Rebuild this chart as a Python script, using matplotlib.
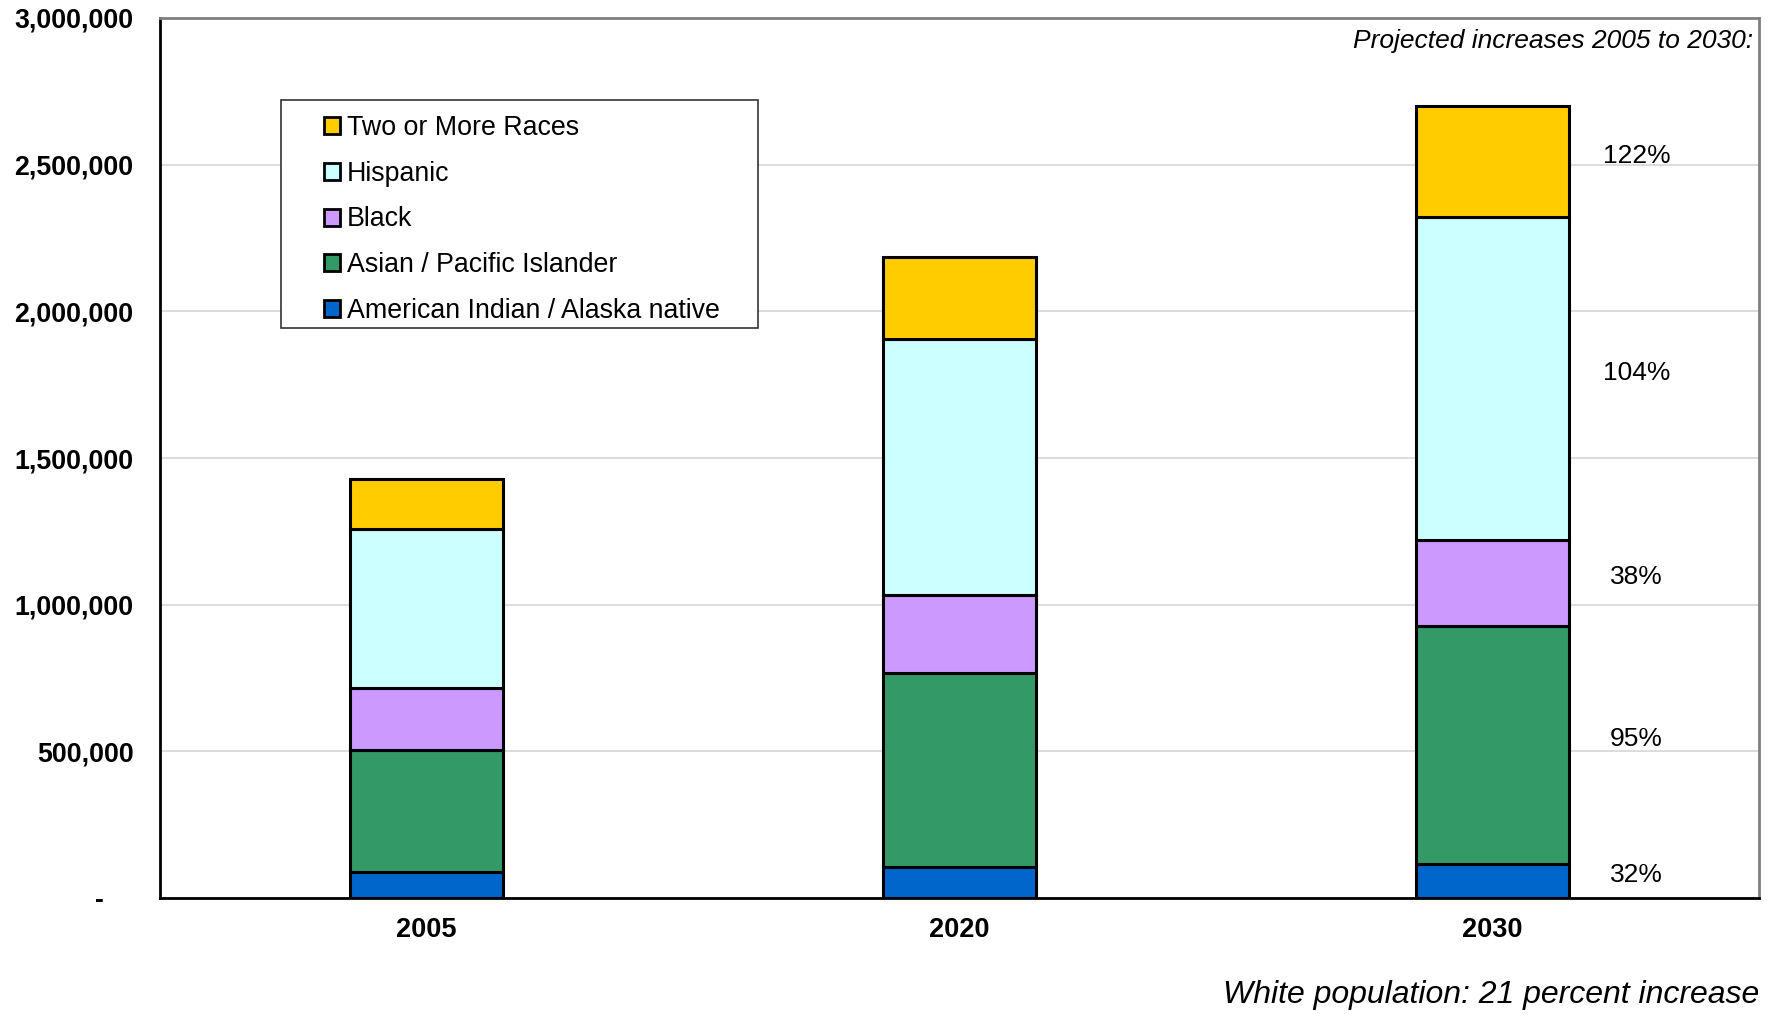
import matplotlib.pyplot as plt
from matplotlib.ticker import FuncFormatter
from matplotlib.patches import Rectangle
import numpy as np

plt.rcParams['font.family'] = ['Liberation Sans', 'DejaVu Sans']

years = ["2005", "2020", "2030"]
groups = [
    "American Indian / Alaska native",
    "Asian / Pacific Islander",
    "Black",
    "Hispanic",
    "Two or More Races",
]
colors = ["#0066CC", "#339966", "#CC99FF", "#CCFFFF", "#FFCC00"]

american_indian = [89000, 107000, 117500]
asian = [415000, 660000, 809000]
black = [212000, 266000, 293000]
hispanic = [541000, 871000, 1102000]
two_or_more = [170000, 280000, 378000]
series = [american_indian, asian, black, hispanic, two_or_more]

increases = ["32%", "95%", "38%", "104%", "122%"]

fig = plt.figure(figsize=(17.76, 10.16), dpi=100)
ax = fig.add_axes([0.0901, 0.1161, 0.9003, 0.8662])

x = np.arange(len(years))
bottom = np.zeros(len(years))
for name, vals, c in zip(groups, series, colors):
    ax.bar(x, vals, width=0.287, bottom=bottom, color=c, edgecolor="black",
           linewidth=2.2, label=name, zorder=3)
    bottom += np.array(vals)

# growth labels beside the 2030 bar
base = 0
for vals, txt in zip(series, increases):
    ax.text(2.27, base + vals[2] / 2 + 20000, txt, ha="center", va="center",
            fontsize=19)
    base += vals[2]

ax.set_xlim(-0.5, 2.5)
ax.set_ylim(0, 3000000)
ax.set_yticks(np.arange(0, 3000001, 500000))
ax.yaxis.set_major_formatter(FuncFormatter(lambda v, p: "-    " if v == 0 else f"{int(v):,}"))
ax.set_xticks(x)
ax.set_xticklabels(years)
for lab in ax.get_yticklabels():
    lab.set_fontweight("bold")
    lab.set_fontsize(19.3)
for lab in ax.get_xticklabels():
    lab.set_fontweight("bold")
    lab.set_fontsize(19.5)
ax.tick_params(length=0)
ax.tick_params(axis="x", pad=14)
ax.tick_params(axis="y", pad=19)

ax.grid(axis="y", color="#D9D9D9", linewidth=1.3, zorder=0)
ax.spines["left"].set_color("black")
ax.spines["bottom"].set_color("black")
ax.spines["top"].set_color("#808080")
ax.spines["right"].set_color("#808080")
for s in ax.spines.values():
    s.set_linewidth(2)

# legend box drawn separately so the entries can sit inset from it
ax.add_patch(Rectangle((0.0757, 0.6477), 0.2983, 0.2593, transform=ax.transAxes,
                       facecolor="white", edgecolor="#333333", linewidth=1.2,
                       zorder=4))
handles, labels = ax.get_legend_handles_labels()
leg = ax.legend(handles[::-1], labels[::-1], loc="upper left",
                bbox_to_anchor=(0.1025, 0.890), fontsize=19.3, frameon=False,
                handlelength=0.6, handleheight=0.6, handletextpad=0.25,
                labelspacing=0.74, borderpad=0, borderaxespad=0)
leg.set_zorder(5)
for h in leg.legend_handles:
    h.set_linewidth(2)

ax.text(0.9965, 0.988, "Projected increases 2005 to 2030:", transform=ax.transAxes,
        ha="right", va="top", fontsize=19, style="italic")
fig.text(0.9904, 0.021, "White population: 21 percent increase", ha="right",
         va="center", fontsize=23, style="italic")

fig.savefig("out.png", dpi=100)
